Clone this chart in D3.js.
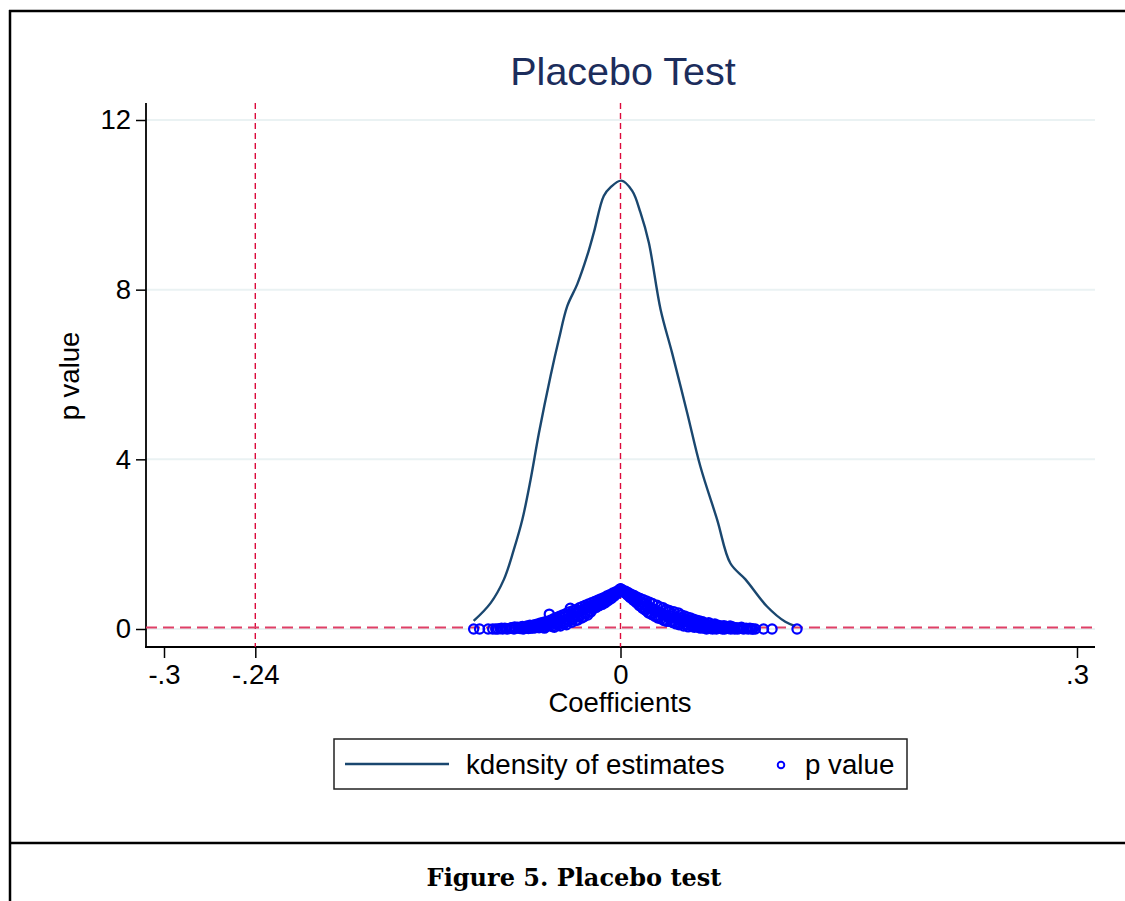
<!DOCTYPE html>
<html>
<head>
    <title>Placebo Test</title>
    <script src="https://d3js.org/d3.v7.min.js"></script>
    <style>
        body { margin: 0; background: #fff; }
        svg { display: block; }
        .tick text { font-family: "Liberation Sans", Arial, sans-serif; font-size: 27.5px; fill: #000; }
    </style>
</head>
<body>
    <div id="chart"></div>

    <script>
        // kdensity of the placebo estimates (coefficient, density)
        const densityX = [-0.0965, -0.0854, -0.0766, -0.0701, -0.0645, -0.0591, -0.0536, -0.0460, -0.0405,
            -0.0350, -0.0284, -0.0219, -0.0175, -0.0110, -0.0066, 0.0005, 0.0077, 0.0131, 0.0186, 0.0263,
            0.0339, 0.0438, 0.0525, 0.0635, 0.0722, 0.0821, 0.0963, 0.1083, 0.1149];
        const densityY = [0.19, 0.61, 1.17, 1.87, 2.58, 3.52, 4.62, 5.96, 6.83,
            7.61, 8.13, 8.80, 9.35, 10.21, 10.41, 10.57, 10.33, 9.82, 9.11, 7.54,
            6.51, 5.10, 3.83, 2.58, 1.55, 1.17, 0.53, 0.17, 0.07];

        // p values of the placebo estimates, [coefficient, p]
        const pvalPoints = [
            [-0.0965, 0], [-0.0926, 0], [-0.0820, 0], [-0.0790, 0.01], [-0.0775, 0], [-0.0760, 0.02],
            [-0.0745, 0], [-0.0730, 0.01], [-0.0715, 0.03], [-0.0700, 0], [-0.0690, 0.02], [-0.0675, 0.04],
            [-0.0660, 0.01], [-0.0650, 0.05], [-0.0640, 0], [-0.0625, 0.03], [-0.0615, 0.07], [-0.0605, 0.01],
            [-0.0595, 0.09], [-0.0585, 0.04], [-0.0575, 0.02], [-0.0565, 0.10], [-0.0555, 0.06], [-0.0545, 0.12],
            [-0.0535, 0.03], [-0.0525, 0.14], [-0.0515, 0.08], [-0.0505, 0.16], [-0.0495, 0.04], [-0.0485, 0.18],
            [-0.0475, 0.10], [-0.0468, 0.35], [-0.0460, 0.21], [-0.0450, 0.06], [-0.0440, 0.24], [-0.0430, 0.14],
            [-0.0420, 0.27], [-0.0410, 0.09], [-0.0400, 0.30], [-0.0390, 0.18], [-0.0380, 0.33], [-0.0370, 0.12],
            [-0.0360, 0.36], [-0.0350, 0.22], [-0.0340, 0.40], [-0.0330, 0.49], [-0.0320, 0.16], [-0.0310, 0.44],
            [-0.0300, 0.27], [-0.0290, 0.46], [-0.0280, 0.21], [-0.0270, 0.50], [-0.0260, 0.33], [-0.0250, 0.53],
            [-0.0240, 0.29], [-0.0230, 0.56], [-0.0220, 0.38], [-0.0210, 0.59], [-0.0200, 0.42], [-0.0190, 0.62],
            [-0.0180, 0.47], [-0.0170, 0.65], [-0.0160, 0.51], [-0.0150, 0.68], [-0.0140, 0.55], [-0.0130, 0.71],
            [-0.0120, 0.58], [-0.0110, 0.74], [-0.0100, 0.62], [-0.0090, 0.78], [-0.0080, 0.67], [-0.0070, 0.81],
            [-0.0060, 0.72], [-0.0050, 0.85], [-0.0040, 0.78], [-0.0030, 0.88], [-0.0020, 0.84], [-0.0010, 0.92],
            [0.0000, 0.95], [0.0010, 0.92], [0.0020, 0.88], [0.0030, 0.90], [0.0040, 0.83], [0.0050, 0.86],
            [0.0060, 0.76], [0.0070, 0.82], [0.0080, 0.70], [0.0090, 0.79], [0.0100, 0.65], [0.0110, 0.75],
            [0.0120, 0.58], [0.0130, 0.72], [0.0140, 0.52], [0.0150, 0.69], [0.0160, 0.46], [0.0170, 0.66],
            [0.0180, 0.40], [0.0190, 0.63], [0.0200, 0.36], [0.0210, 0.60], [0.0220, 0.45], [0.0230, 0.32],
            [0.0240, 0.56], [0.0250, 0.28], [0.0260, 0.52], [0.0270, 0.38], [0.0280, 0.50], [0.0290, 0.22],
            [0.0300, 0.46], [0.0310, 0.30], [0.0320, 0.44], [0.0330, 0.18], [0.0340, 0.36], [0.0350, 0.41],
            [0.0360, 0.15], [0.0370, 0.28], [0.0380, 0.38], [0.0390, 0.12], [0.0400, 0.33], [0.0410, 0.20],
            [0.0420, 0.31], [0.0430, 0.09], [0.0440, 0.28], [0.0450, 0.14], [0.0460, 0.26], [0.0470, 0.06],
            [0.0480, 0.23], [0.0490, 0.10], [0.0500, 0.21], [0.0510, 0.04], [0.0520, 0.19], [0.0530, 0.08],
            [0.0540, 0.17], [0.0550, 0.02], [0.0560, 0.13], [0.0570, 0.05], [0.0580, 0.15], [0.0590, 0.01],
            [0.0600, 0.11], [0.0610, 0.03], [0.0620, 0.12], [0.0630, 0.00], [0.0640, 0.09], [0.0650, 0.02],
            [0.0660, 0.07], [0.0670, 0.00], [0.0680, 0.08], [0.0690, 0.03], [0.0700, 0.05], [0.0710, 0.01],
            [0.0720, 0.07], [0.0730, 0.02], [0.0740, 0.04], [0.0750, 0.00], [0.0765, 0.03], [0.0780, 0.01],
            [0.0795, 0.04], [0.0810, 0.00], [0.0825, 0.02], [0.0840, 0.00], [0.0855, 0.01], [0.0870, 0.00],
            [0.0886, 0.00], [0.0940, 0.00], [0.0996, 0.00], [0.1160, 0.00],
            // second pass over the dense band
            [-0.0870, 0], [-0.0840, 0], [-0.0805, 0], [-0.0782, 0.02], [-0.0752, 0.01], [-0.0722, 0.02],
            [-0.0695, 0.05], [-0.0668, 0.02], [-0.0645, 0.06], [-0.0632, 0.01], [-0.0610, 0.04], [-0.0590, 0.02],
            [-0.0570, 0.07], [-0.0560, 0.03], [-0.0540, 0.09], [-0.0530, 0.06], [-0.0510, 0.11], [-0.0500, 0.02],
            [-0.0490, 0.13], [-0.0480, 0.07], [-0.0465, 0.16], [-0.0455, 0.10], [-0.0445, 0.18], [-0.0435, 0.04],
            [-0.0425, 0.20], [-0.0415, 0.12], [-0.0405, 0.23], [-0.0395, 0.07], [-0.0385, 0.26], [-0.0375, 0.15],
            [-0.0365, 0.29], [-0.0355, 0.10], [-0.0345, 0.31], [-0.0335, 0.19], [-0.0325, 0.35], [-0.0315, 0.24],
            [-0.0305, 0.38], [-0.0295, 0.20], [-0.0285, 0.41], [-0.0275, 0.30], [-0.0265, 0.43], [-0.0255, 0.26],
            [-0.0245, 0.46], [-0.0235, 0.36], [-0.0225, 0.49], [-0.0215, 0.33], [-0.0205, 0.52], [-0.0195, 0.40],
            [-0.0185, 0.56], [-0.0175, 0.50], [-0.0165, 0.58], [-0.0155, 0.55], [-0.0145, 0.62], [-0.0135, 0.60],
            [-0.0125, 0.65], [-0.0115, 0.63], [-0.0105, 0.70], [-0.0095, 0.68], [-0.0085, 0.73], [-0.0075, 0.75],
            [-0.0065, 0.77], [-0.0055, 0.80], [-0.0045, 0.82], [-0.0035, 0.85], [-0.0025, 0.87], [-0.0015, 0.89],
            [-0.0005, 0.93], [0.0005, 0.94], [0.0015, 0.90], [0.0025, 0.86], [0.0035, 0.85], [0.0045, 0.80],
            [0.0055, 0.79], [0.0065, 0.74], [0.0075, 0.76], [0.0085, 0.68], [0.0095, 0.72], [0.0105, 0.62],
            [0.0115, 0.68], [0.0125, 0.55], [0.0135, 0.63], [0.0145, 0.49], [0.0155, 0.59], [0.0165, 0.44],
            [0.0175, 0.55], [0.0185, 0.38], [0.0195, 0.50], [0.0205, 0.34], [0.0215, 0.47], [0.0225, 0.30],
            [0.0235, 0.42], [0.0245, 0.26], [0.0255, 0.40], [0.0265, 0.24], [0.0275, 0.34], [0.0285, 0.20],
            [0.0295, 0.32], [0.0305, 0.18], [0.0315, 0.40], [0.0325, 0.25], [0.0335, 0.30], [0.0345, 0.15],
            [0.0355, 0.26], [0.0365, 0.12], [0.0375, 0.22], [0.0385, 0.10], [0.0395, 0.26], [0.0405, 0.16],
            [0.0415, 0.07], [0.0425, 0.22], [0.0435, 0.12], [0.0445, 0.05], [0.0455, 0.19], [0.0465, 0.09],
            [0.0475, 0.17], [0.0485, 0.04], [0.0495, 0.14], [0.0505, 0.07], [0.0515, 0.12], [0.0525, 0.02],
            [0.0535, 0.14], [0.0545, 0.05], [0.0555, 0.10], [0.0565, 0.00], [0.0575, 0.09], [0.0585, 0.04],
            [0.0595, 0.08], [0.0605, 0.00], [0.0615, 0.06], [0.0625, 0.08], [0.0635, 0.03], [0.0645, 0.05],
            [0.0655, 0.06], [0.0665, 0.02], [0.0675, 0.05], [0.0685, 0.00], [0.0695, 0.06], [0.0705, 0.02],
            [0.0715, 0.04], [0.0725, 0.00], [0.0735, 0.05], [0.0748, 0.02], [0.0770, 0.00], [0.0785, 0.02],
            [0.0800, 0.01], [0.0830, 0.01], [0.0850, 0.02], [0.0865, 0.00]
        ];

        const xTicks = [-0.3, -0.24, 0, 0.3];
        const xTickLabels = ["-.3", "-.24", "0", ".3"];
        const yTicks = [0, 4, 8, 12];
        const refLinesX = [-0.24, 0];   // vertical reference lines
        const refLineY = 0;             // horizontal reference line

        const width = 1125, height = 901;
        const plotLeft = 146, plotRight = 1095, plotTop = 103, plotBottom = 647;
        const sans = "'Liberation Sans', Arial, sans-serif";

        const svg = d3.select("#chart").append("svg")
            .attr("width", width)
            .attr("height", height);

        // outer frame and caption divider
        svg.append("line").attr("x1", 9).attr("x2", width).attr("y1", 11).attr("y2", 11)
            .attr("stroke", "#000").attr("stroke-width", 2.5);
        svg.append("line").attr("x1", 10).attr("x2", 10).attr("y1", 10).attr("y2", height)
            .attr("stroke", "#000").attr("stroke-width", 2.5);
        svg.append("line").attr("x1", 9).attr("x2", width).attr("y1", 843).attr("y2", 843)
            .attr("stroke", "#000").attr("stroke-width", 2.5);

        const x = d3.scaleLinear().domain([-0.3, 0.3]).range([164, 1077]);
        const y = d3.scaleLinear().domain([0, 12]).range([629, 120]);

        // gridlines
        svg.append("g").selectAll("line")
            .data(yTicks)
            .enter().append("line")
            .attr("x1", plotLeft).attr("x2", plotRight)
            .attr("y1", d => y(d)).attr("y2", d => y(d))
            .attr("stroke", "#eaf2f3").attr("stroke-width", 2);

        // axes
        const xAxis = svg.append("g")
            .attr("transform", `translate(0,${plotBottom})`)
            .call(d3.axisBottom(x).tickValues(xTicks).tickSize(11).tickPadding(6)
                .tickFormat((d, i) => xTickLabels[i]));
        xAxis.select(".domain").remove();
        xAxis.selectAll(".tick line").attr("stroke", "#000").attr("stroke-width", 1.5);

        const yAxis = svg.append("g")
            .attr("transform", `translate(${plotLeft},0)`)
            .call(d3.axisLeft(y).tickValues(yTicks).tickSize(10).tickPadding(5));
        yAxis.select(".domain").remove();
        yAxis.selectAll(".tick line").attr("stroke", "#000").attr("stroke-width", 1.5);

        svg.append("line").attr("x1", plotLeft - 1).attr("x2", plotRight)
            .attr("y1", plotBottom).attr("y2", plotBottom)
            .attr("stroke", "#000").attr("stroke-width", 1.8);
        svg.append("line").attr("x1", plotLeft).attr("x2", plotLeft)
            .attr("y1", plotTop).attr("y2", plotBottom)
            .attr("stroke", "#000").attr("stroke-width", 1.8);

        // reference lines
        svg.append("g").selectAll("line")
            .data(refLinesX)
            .enter().append("line")
            .attr("x1", d => x(d)).attr("x2", d => x(d))
            .attr("y1", plotTop).attr("y2", plotBottom)
            .attr("stroke", "#dc0a3c").attr("stroke-width", 1.4)
            .attr("stroke-dasharray", "6,4");

        svg.append("line")
            .attr("x1", plotLeft).attr("x2", plotRight)
            .attr("y1", y(refLineY) - 1.5).attr("y2", y(refLineY) - 1.5)
            .attr("stroke", "#df3f66").attr("stroke-width", 1.8)
            .attr("stroke-dasharray", "11,6");

        // kdensity curve
        const line = d3.line()
            .x((d, i) => x(densityX[i]))
            .y(d => y(d))
            .curve(d3.curveCatmullRom.alpha(0.5));

        svg.append("path")
            .datum(densityY)
            .attr("d", line)
            .attr("fill", "none")
            .attr("stroke", "#1a476f")
            .attr("stroke-width", 2.4);

        // p value markers
        svg.append("g").selectAll("circle")
            .data(pvalPoints)
            .enter().append("circle")
            .attr("cx", d => x(d[0]))
            .attr("cy", d => y(d[1]))
            .attr("r", 4.6)
            .attr("fill", "none")
            .attr("stroke", "#0000ff")
            .attr("stroke-width", 2.2);

        // title and axis titles
        svg.append("text")
            .attr("x", 623).attr("y", 85)
            .attr("text-anchor", "middle")
            .attr("font-family", sans).attr("font-size", 39.5)
            .attr("fill", "#1c2d5c")
            .text("Placebo Test");

        svg.append("text")
            .attr("x", 620).attr("y", 712)
            .attr("text-anchor", "middle")
            .attr("font-family", sans).attr("font-size", 27.5)
            .text("Coefficients");

        svg.append("text")
            .attr("transform", "translate(79,376) rotate(-90)")
            .attr("text-anchor", "middle")
            .attr("font-family", sans).attr("font-size", 27.5)
            .text("p value");

        // legend
        const legend = svg.append("g");
        legend.append("rect")
            .attr("x", 334).attr("y", 739).attr("width", 573).attr("height", 50)
            .attr("fill", "#fff").attr("stroke", "#222").attr("stroke-width", 1.5);
        legend.append("line")
            .attr("x1", 345).attr("x2", 449).attr("y1", 764).attr("y2", 764)
            .attr("stroke", "#1a476f").attr("stroke-width", 2.6);
        legend.append("text")
            .attr("x", 466).attr("y", 774)
            .attr("font-family", sans).attr("font-size", 27.7)
            .text("kdensity of estimates");
        legend.append("circle")
            .attr("cx", 781).attr("cy", 765).attr("r", 3.3)
            .attr("fill", "none").attr("stroke", "#0000ff").attr("stroke-width", 1.9);
        legend.append("text")
            .attr("x", 805).attr("y", 774)
            .attr("font-family", sans).attr("font-size", 27.7)
            .text("p value");

        // figure caption
        svg.append("text")
            .attr("x", 574).attr("y", 886)
            .attr("text-anchor", "middle")
            .attr("font-family", "Georgia, 'DejaVu Serif', serif")
            .attr("font-weight", "bold").attr("font-size", 24)
            .text("Figure 5. Placebo test");
    </script>
</body>
</html>
